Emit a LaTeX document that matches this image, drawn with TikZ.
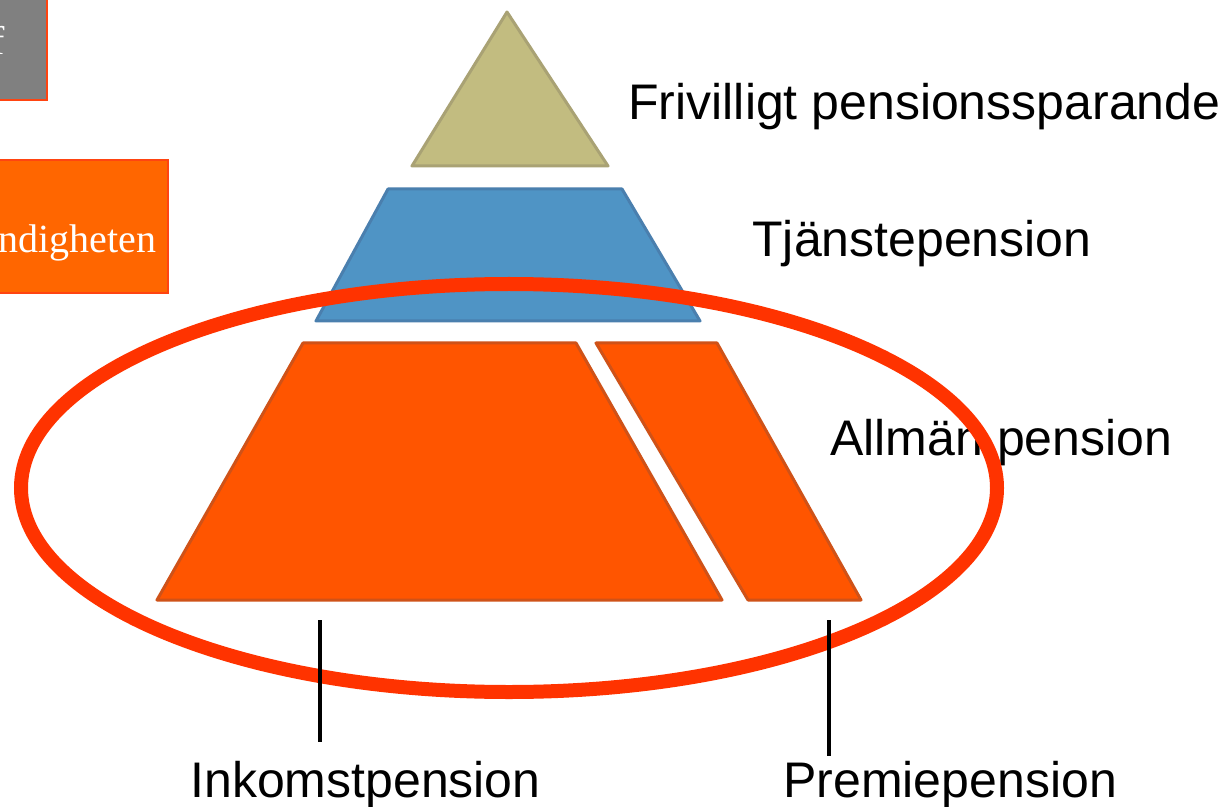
\documentclass[tikz,border=0pt]{standalone}
\usepackage{fontspec}
\setmainfont{Liberation Sans}
\newfontfamily\serifface{Liberation Serif}
\definecolor{khaki}{HTML}{C2BC80}
\definecolor{khakiedge}{HTML}{A9A274}
\definecolor{tierblue}{HTML}{4F94C5}
\definecolor{tierblueedge}{HTML}{4A7FAE}
\definecolor{tierorange}{HTML}{FF5500}
\definecolor{tierorangeedge}{HTML}{CF5218}
\definecolor{ringred}{HTML}{FF3300}
\definecolor{boxorange}{HTML}{FF6600}
\definecolor{boxedge}{HTML}{FF4411}
\definecolor{boxgray}{HTML}{808080}
\tikzset{
  tier/.style={line width=1.5pt, line join=round},
  label/.style={font=\fontsize{25}{30}\selectfont, anchor=base west, inner sep=0pt, text=black},
  boxtext/.style={font=\serifface\fontsize{20}{24}\selectfont, text=white, inner sep=0pt, anchor=base east},
  tick/.style={line width=2pt, black},
  ring/.style={draw=ringred, line width=7pt}
}
\begin{document}
\begin{tikzpicture}[x=0.5pt,y=-0.5pt]
\useasboundingbox (0,0) rectangle (1230,807);
\clip (0,0) rectangle (1230,807);
\fill[white] (0,0) rectangle (1230,807);
% side boxes
\draw[fill=boxgray, draw=boxedge, line width=1pt] (-10,-10) rectangle (47,100);
\node[boxtext] (gtext) at (5,55) {f};
\draw[fill=boxorange, draw=boxedge, line width=1pt] (-10,160) rectangle (168,293);
\node[boxtext] (otext) at (157,253) {ndigheten};
% pyramid tiers
\draw[tier, fill=khaki, draw=khakiedge] (507,12) -- (608,166) -- (412,166) -- cycle;
\draw[tier, fill=tierblue, draw=tierblueedge] (388,189) -- (622,189) -- (700,321) -- (316,321) -- cycle;
\draw[tier, fill=tierorange, draw=tierorangeedge] (303,343) -- (576,343) -- (722,600) -- (157,600) -- cycle;
\draw[tier, fill=tierorange, draw=tierorangeedge] (596,343) -- (717,343) -- (861,600) -- (748,600) -- cycle;
% labels
\node[label] (frivilligt) at (628,120) {Frivilligt pensionssparande};
\node[label] (tjanste) at (752,257) {Tjänstepension};
\node[label] (allman) at (830,455) {Allmän pension};
\node[label] (inkomst) at (190,797) {Inkomstpension};
\node[label] (premie) at (783,797) {Premiepension};
% ellipse
\draw[ring] (509,488) ellipse [x radius=488, y radius=204];
% tick lines
\coordinate (i1) at (320,620);
\coordinate (i2) at (320,742);
\coordinate (p1) at (829,620);
\coordinate (p2) at (829,756);
\draw[tick] (i1) -- (i2);
\draw[tick] (p1) -- (p2);
\end{tikzpicture}
\end{document}
